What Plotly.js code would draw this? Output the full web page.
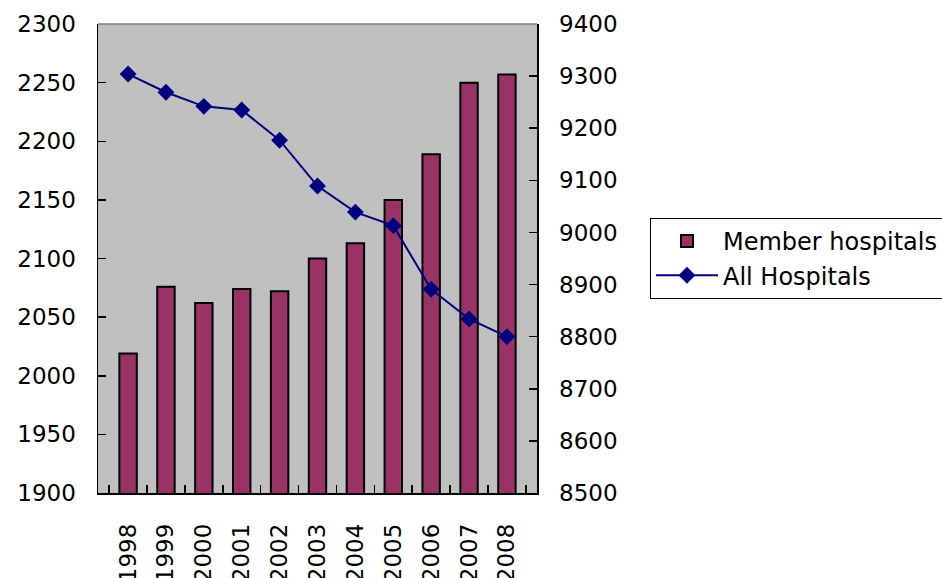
<!DOCTYPE html>
<html>
<head>
<meta charset="utf-8">
<script src="https://cdn.plot.ly/plotly-3.0.1.min.js"></script>
<style>html,body{margin:0;padding:0;background:#fff;}#chart{width:942px;height:578px;}</style>
</head>
<body>
<div id="chart"></div>
<script>
var years = ['1998','1999','2000','2001','2002','2003','2004','2005','2006','2007','2008'];
var memberHospitals = [2019, 2076, 2062, 2074, 2072, 2100, 2113, 2150, 2189, 2250, 2257];
var allHospitals = [9304, 9269, 9242, 9235, 9177, 9089, 9039, 9013, 8891, 8834, 8800];
var leftTicks = [1900, 1950, 2000, 2050, 2100, 2150, 2200, 2250, 2300];
var rightTicks = [8500, 8600, 8700, 8800, 8900, 9000, 9100, 9200, 9300, 9400];

var FONT = 'DejaVu Sans, sans-serif';

var traces = [
  {
    type: 'bar', name: 'Member hospitals', x: years, y: memberHospitals,
    marker: {color: '#993366', line: {color: '#000000', width: 2}},
    yaxis: 'y', hoverinfo: 'x+y'
  },
  {
    type: 'scatter', mode: 'lines+markers', name: 'All Hospitals', x: years, y: allHospitals,
    line: {color: '#000080', width: 2},
    marker: {symbol: 'diamond', size: 13, color: '#000080'},
    yaxis: 'y2', hoverinfo: 'x+y'
  }
];

var layout = {
  width: 942, height: 578,
  margin: {l: 98, r: 405, t: 24, b: 85, pad: 0, autoexpand: false},
  paper_bgcolor: '#ffffff', plot_bgcolor: '#c0c0c0',
  font: {family: FONT, size: 23, color: '#000000'},
  bargap: 0.54,
  showlegend: true,
  legend: {
    xref: 'container', yref: 'container',
    x: 0.69, y: 0.623, xanchor: 'left', yanchor: 'top',
    bordercolor: '#000000', borderwidth: 1, bgcolor: '#ffffff',
    font: {family: FONT, size: 24, color: '#000000'},
    tracegroupgap: 0, itemwidth: 62
  },
  xaxis: {
    type: 'category', tickangle: -90, tickson: 'boundaries',
    ticks: 'inside', ticklen: 8, tickcolor: '#000000', tickwidth: 1.5,
    showline: true, linecolor: '#000000', linewidth: 1.5,
    showgrid: false, zeroline: false, ticklabelstandoff: 20,
    tickfont: {family: FONT, size: 23, color: '#000000'}
  },
  yaxis: {
    range: [1900, 2300], tickvals: leftTicks, ticktext: leftTicks.map(String),
    ticks: 'inside', ticklen: 8, tickcolor: '#000000', tickwidth: 1.5,
    showline: true, linecolor: '#000000', linewidth: 1.5,
    showgrid: false, zeroline: false, ticklabelstandoff: 16,
    tickfont: {family: FONT, size: 23, color: '#000000'}
  },
  yaxis2: {
    overlaying: 'y', side: 'right',
    range: [8500, 9400], tickvals: rightTicks, ticktext: rightTicks.map(String),
    ticks: 'inside', ticklen: 8, tickcolor: '#000000', tickwidth: 1.5,
    showline: true, linecolor: '#000000', linewidth: 1.5,
    showgrid: false, zeroline: false, ticklabelstandoff: 16,
    tickfont: {family: FONT, size: 23, color: '#000000'}
  },
  shapes: [
    {type: 'line', xref: 'paper', yref: 'paper', x0: 0, x1: 1, y0: 1, y1: 1,
     line: {color: '#808080', width: 1.5}}
  ]
};

Plotly.newPlot('chart', traces, layout, {displayModeBar: false, staticPlot: true});
</script>
</body>
</html>
